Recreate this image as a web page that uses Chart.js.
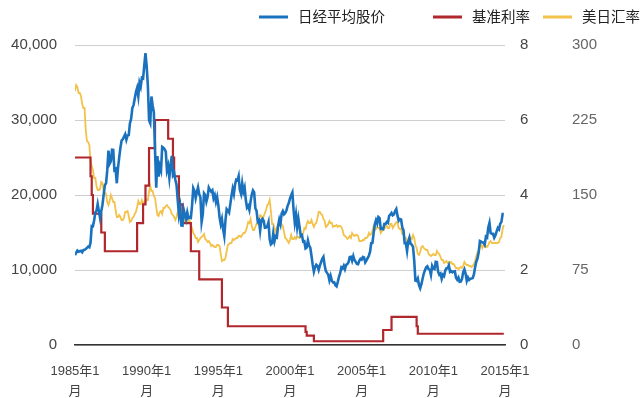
<!DOCTYPE html>
<html>
<head>
<meta charset="utf-8">
<script src="https://cdn.jsdelivr.net/npm/chart.js@4.4.1/dist/chart.umd.min.js"></script>
<style>
  html, body { margin: 0; padding: 0; background: #fff; }
  #wrap { width: 640px; height: 398px; position: relative; }
</style>
</head>
<body>
<div id="wrap"><canvas id="c" width="640" height="398"></canvas></div>
<script>
// ---- Data (monthly, Jan 1985 .. Dec 2014) ----
const startYear = 1985;
const seriesNames = ['日经平均股价', '基准利率', '美日汇率'];
const xTickYears = [1985, 1990, 1995, 2000, 2005, 2010, 2015];
const xTickSuffix = ['年1', '月'];
const leftTicks = [0, 10000, 20000, 30000, 40000];
const rateTicks = [0, 2, 4, 6, 8];
const fxTicks = [0, 75, 150, 225, 300];

const nikkei = [
  11992,12321,12580,12426,12491,12558,12374,12648,12700,12805,12957,13113,
  13024,13641,15860,15825,16592,17654,17896,18788,17853,16910,17852,18701,
  20048,21310,21567,23274,25929,24176,24489,26029,26011,23329,23459,21564,
  23622,24985,26260,27256,27423,27769,28104,27368,27923,27982,29579,30159,
  31581,31986,32838,33714,34267,33183,34954,34431,35637,35549,37269,38916,
  37189,34592,29980,29584,33131,31940,31036,25978,20984,25194,22455,23849,
  23293,26409,26292,26111,25790,23291,23900,22336,23916,25222,22687,22984,
  22023,21339,19346,17391,18348,15951,15910,18061,17399,16767,17684,16925,
  17024,16953,18591,20919,20552,19590,20380,21027,20106,19704,16408,17417,
  20229,19997,19112,19725,20974,20644,20449,20629,19564,19990,19076,19723,
  18650,17053,16140,16807,15437,14517,16678,18117,17913,17655,18744,19868,
  20813,20125,21407,22041,21956,22531,20693,20167,21556,20467,21020,19361,
  18330,18557,18003,19151,20069,20605,20331,18229,17888,16459,16636,15259,
  16628,16831,16527,15641,15671,15830,16379,14108,13406,13565,14883,13842,
  14499,14368,15837,16701,16112,17530,17862,17437,17605,17942,18558,18934,
  19540,19960,20337,17974,16332,17411,15727,16861,15747,14539,14649,13786,
  13844,12884,13000,13934,13262,12969,11861,10714,9775,10366,10697,10543,
  9998,10588,11025,11493,11764,10622,9878,9619,9383,8640,9216,8579,
  8340,8363,7973,7831,8425,9083,9563,10344,10219,10560,10101,10677,
  10784,11042,11715,11762,11236,11859,11326,11082,10824,10771,11231,11489,
  11388,11741,11669,11009,11277,11584,11900,12414,13574,13607,14872,16111,
  16650,16205,17060,16906,15467,15505,15457,16141,16128,16399,16274,17226,
  17383,17604,17288,17400,17876,18138,17249,16569,16786,16737,15681,15308,
  13592,13603,12526,13850,14339,13482,13377,13073,11260,8577,8512,8860,
  7994,7568,8110,8828,9523,9958,10357,10493,10133,10035,9346,10546,
  10198,10126,11090,11057,9769,9383,9537,8824,9369,9202,9937,10229,
  10238,10624,9755,9850,9694,9816,9833,8955,8700,8988,8435,8455,
  8803,9723,10084,9521,8543,9007,8695,8840,8870,8928,9446,10395,
  11139,11559,12398,13861,13775,13677,13668,13389,14456,14328,15662,16291,
  14915,14841,14828,14304,14632,15162,15621,15425,16174,16414,17460,17451
];

const rate = [
  5,5,5,5,5,5,5,5,5,5,5,5,
  5,4.5,4,3.5,3.5,3.5,3.5,3.5,3.5,3.5,3,3,
  3,2.5,2.5,2.5,2.5,2.5,2.5,2.5,2.5,2.5,2.5,2.5,
  2.5,2.5,2.5,2.5,2.5,2.5,2.5,2.5,2.5,2.5,2.5,2.5,
  2.5,2.5,2.5,2.5,3.25,3.25,3.25,3.25,3.25,3.75,3.75,4.25,
  4.25,4.25,5.25,5.25,5.25,5.25,5.25,6,6,6,6,6,
  6,6,6,6,6,6,5.5,5.5,5.5,5.5,5,4.5,
  4.5,4.5,4.5,3.75,3.75,3.75,3.25,3.25,3.25,3.25,3.25,3.25,
  3.25,2.5,2.5,2.5,2.5,2.5,2.5,2.5,1.75,1.75,1.75,1.75,
  1.75,1.75,1.75,1.75,1.75,1.75,1.75,1.75,1.75,1.75,1.75,1.75,
  1.75,1.75,1.75,1,1,1,1,1,0.5,0.5,0.5,0.5,
  0.5,0.5,0.5,0.5,0.5,0.5,0.5,0.5,0.5,0.5,0.5,0.5,
  0.5,0.5,0.5,0.5,0.5,0.5,0.5,0.5,0.5,0.5,0.5,0.5,
  0.5,0.5,0.5,0.5,0.5,0.5,0.5,0.5,0.5,0.5,0.5,0.5,
  0.5,0.5,0.5,0.5,0.5,0.5,0.5,0.5,0.5,0.5,0.5,0.5,
  0.5,0.5,0.5,0.5,0.5,0.5,0.5,0.5,0.5,0.5,0.5,0.5,
  0.5,0.35,0.25,0.25,0.25,0.25,0.25,0.25,0.1,0.1,0.1,0.1,
  0.1,0.1,0.1,0.1,0.1,0.1,0.1,0.1,0.1,0.1,0.1,0.1,
  0.1,0.1,0.1,0.1,0.1,0.1,0.1,0.1,0.1,0.1,0.1,0.1,
  0.1,0.1,0.1,0.1,0.1,0.1,0.1,0.1,0.1,0.1,0.1,0.1,
  0.1,0.1,0.1,0.1,0.1,0.1,0.1,0.1,0.1,0.1,0.1,0.1,
  0.1,0.1,0.1,0.1,0.1,0.1,0.4,0.4,0.4,0.4,0.4,0.4,
  0.4,0.75,0.75,0.75,0.75,0.75,0.75,0.75,0.75,0.75,0.75,0.75,
  0.75,0.75,0.75,0.75,0.75,0.75,0.75,0.75,0.75,0.75,0.5,0.3,
  0.3,0.3,0.3,0.3,0.3,0.3,0.3,0.3,0.3,0.3,0.3,0.3,
  0.3,0.3,0.3,0.3,0.3,0.3,0.3,0.3,0.3,0.3,0.3,0.3,
  0.3,0.3,0.3,0.3,0.3,0.3,0.3,0.3,0.3,0.3,0.3,0.3,
  0.3,0.3,0.3,0.3,0.3,0.3,0.3,0.3,0.3,0.3,0.3,0.3,
  0.3,0.3,0.3,0.3,0.3,0.3,0.3,0.3,0.3,0.3,0.3,0.3,
  0.3,0.3,0.3,0.3,0.3,0.3,0.3,0.3,0.3,0.3,0.3,0.3
];

const usdjpy = [
  254,260,258,252,252,249,241,237,237,215,204,203,
  200,184,179,175,167,167,159,155,155,156,163,162,
  154,153,151,143,140,144,150,147,143,143,135,128,
  128,130,128,125,125,127,133,133,134,129,123,124,
  127,128,131,133,138,144,141,141,145,142,143,144,
  145,145,153,159,154,154,149,147,138,130,129,133,
  134,131,137,137,139,140,138,137,135,131,130,128,
  125,128,133,133,131,127,126,126,122,122,124,124,
  125,120,117,112,110,107,107,103,105,107,108,109,
  111,106,105,103,104,102,99,100,99,98,98,100,
  100,99,91,84,85,85,87,94,100,101,102,102,
  106,105,106,107,107,109,109,108,110,112,112,114,
  118,123,122,126,119,115,115,118,121,121,125,130,
  129,125,129,132,135,140,141,145,134,121,121,117,
  113,117,120,120,122,121,119,113,107,106,104,102,
  105,110,106,106,108,106,108,108,107,108,109,112,
  117,116,121,124,122,122,125,121,118,121,122,127,
  133,133,131,130,126,124,118,119,121,124,122,122,
  118,119,119,120,118,119,119,118,115,110,109,108,
  106,107,109,107,112,110,109,110,110,109,104,104,
  104,105,105,107,107,108,112,110,111,114,119,121,
  116,118,117,117,112,114,115,116,118,119,117,117,
  121,121,117,119,121,123,122,117,116,116,111,112,
  107,107,101,103,105,107,106,110,107,100,97,91,
  90,93,98,99,97,96,95,95,91,90,89,90,
  91,90,90,94,92,91,88,85,85,82,83,84,
  82,83,82,83,81,81,79,77,77,76,77,78,
  77,79,83,81,80,80,79,79,78,79,81,84,
  89,93,95,98,101,97,100,98,99,98,100,103,
  104,102,102,102,102,102,102,103,107,108,116,120
];

// ---- Build points on the library's linear year scale ----
const toPoints = arr => arr.map((v, i) => ({ x: startYear + i / 12, y: v }));

const FONT = "Arial, 'Liberation Sans', 'Noto Sans CJK SC', sans-serif";
const TXT = '#444';

// legend styling (layout only)
const legendStyle = { y: 17, lineLen: 29, gap: 10, starts: [259, 433, 543], size: 14.5, color: '#222' };

const topLegend = {
  id: 'topLegend',
  afterDraw(chart) {
    const ctx = chart.ctx;
    ctx.save();
    ctx.font = legendStyle.size + 'px ' + FONT;
    ctx.textBaseline = 'middle';
    ctx.textAlign = 'left';
    chart.data.datasets.forEach((ds, i) => {
      const x = legendStyle.starts[i];
      ctx.strokeStyle = ds.borderColor;
      ctx.lineWidth = 3;
      ctx.beginPath();
      ctx.moveTo(x, legendStyle.y);
      ctx.lineTo(x + legendStyle.lineLen, legendStyle.y);
      ctx.stroke();
      ctx.fillStyle = legendStyle.color;
      ctx.fillText(ds.label, x + legendStyle.lineLen + legendStyle.gap, legendStyle.y + 1);
    });
    ctx.restore();
  }
};

new Chart(document.getElementById('c'), {
  type: 'line',
  data: {
    datasets: [
      { label: seriesNames[0], data: toPoints(nikkei), yAxisID: 'yL',
        borderColor: '#1a72bf', backgroundColor: '#1a72bf', borderWidth: 2.6,
        pointRadius: 0, tension: 0, order: 0 },
      { label: seriesNames[1], data: toPoints(rate), yAxisID: 'yR1',
        borderColor: '#b0272c', backgroundColor: '#b0272c', borderWidth: 2.2,
        pointRadius: 0, stepped: 'before', order: 1 },
      { label: seriesNames[2], data: toPoints(usdjpy), yAxisID: 'yR2',
        borderColor: '#f3c24a', backgroundColor: '#f3c24a', borderWidth: 1.8,
        pointRadius: 0, tension: 0, order: 2 }
    ]
  },
  plugins: [topLegend],
  options: {
    responsive: false,
    animation: false,
    layout: { padding: { top: 45, left: 0, right: 0, bottom: 0 } },
    plugins: {
      tooltip: { enabled: false },
      legend: { display: false }
    },
    scales: {
      x: {
        type: 'linear', min: xTickYears[0], max: xTickYears[xTickYears.length - 1],
        afterBuildTicks: s => { s.ticks = xTickYears.map(v => ({ value: v })); },
        afterFit: s => { s.height = 53; },
        grid: { display: false, drawTicks: false },
        border: { display: true, color: '#333', width: 1.5 },
        ticks: {
          padding: 16, color: TXT, maxRotation: 0, autoSkip: false,
          font: { family: FONT, size: 13, lineHeight: 1.55 },
          callback: v => [v + xTickSuffix[0], xTickSuffix[1]]
        }
      },
      yL: {
        position: 'left', min: 0, max: 40000,
        afterBuildTicks: s => { s.ticks = leftTicks.map(v => ({ value: v })); },
        afterFit: s => { s.width = 75; },
        grid: { color: '#cfcfcf', drawTicks: false, lineWidth: 1 },
        border: { display: false },
        ticks: { padding: 18, color: TXT, font: { family: FONT, size: 15 },
          callback: v => v.toLocaleString('en-US') }
      },
      yR1: {
        position: 'right', min: 0, max: 8,
        afterBuildTicks: s => { s.ticks = rateTicks.map(v => ({ value: v })); },
        afterFit: s => { s.width = 50; },
        grid: { display: false, drawTicks: false },
        border: { display: false },
        ticks: { padding: 15, color: TXT, font: { family: FONT, size: 15 } }
      },
      yR2: {
        position: 'right', min: 0, max: 300,
        afterBuildTicks: s => { s.ticks = fxTicks.map(v => ({ value: v })); },
        afterFit: s => { s.width = 85; },
        grid: { display: false, drawTicks: false },
        border: { display: false },
        ticks: { padding: 17, color: '#666', font: { family: FONT, size: 15 } }
      }
    }
  }
});
</script>
</body>
</html>
